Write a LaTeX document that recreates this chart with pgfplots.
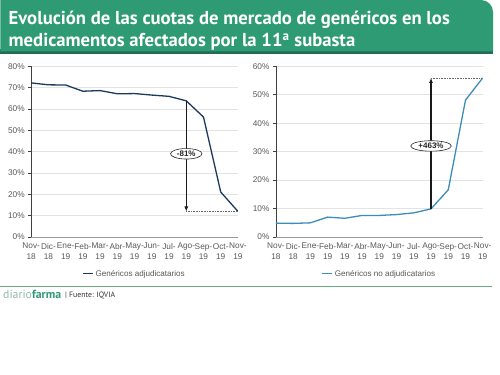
\documentclass[border=0pt]{standalone}
\usepackage{pgfplots}
\pgfplotsset{compat=1.18}
\usepackage{fontspec}
\setmainfont{Liberation Sans}
\newfontfamily\titlefont{PT Sans}
\usetikzlibrary{shapes.geometric,arrows.meta}
\definecolor{dfgreen}{HTML}{2E9B74}
\definecolor{dfdark}{HTML}{1F6E52}
\definecolor{dflight}{HTML}{93BBA8}
\definecolor{dfline}{HTML}{6DAA86}
\definecolor{txtgray}{HTML}{595959}
\definecolor{navy}{HTML}{1B3A5C}
\definecolor{steel}{HTML}{3D8DBA}
\definecolor{gridc}{HTML}{E3E3E3}

\pgfplotstableread{
x y
0 72.2
1 71.3
2 71.2
3 68.3
4 68.6
5 67.1
6 67.2
7 66.5
8 65.9
9 63.8
10 56.2
11 21.1
12 12.0
}\adjud

\pgfplotstableread{
x y
0 4.9
1 4.8
2 5.0
3 7.0
4 6.6
5 7.6
6 7.6
7 7.9
8 8.5
9 9.9
10 16.6
11 48.1
12 55.9
}\noadjud

\tikzset{pct/.style={ellipse, draw=black!85, line width=0.6pt, fill=white, inner xsep=1.8pt, inner ysep=0.3pt, minimum height=10.5pt, font=\bfseries\fontsize{8}{9}\selectfont, text=black!85}}

\pgfplotsset{
  common/.style={
    scale only axis, width=207pt, height=171pt, anchor=south west,
    xmin=0, xmax=12,
    axis lines=left,
    axis line style={txtgray, line width=0.6pt},
    x axis line style={-, draw=gray!80},
    y axis line style={-, draw=black!75, line width=0.8pt},
    xtick={0,...,12},
    xticklabels={{Nov-\\18},{Dic-\\18},{Ene-\\19},{Feb-\\19},{Mar-\\19},{Abr-\\19},{May-\\19},{Jun-\\19},{Jul-\\19},{Ago-\\19},{Sep-\\19},{Oct-\\19},{Nov-\\19}},
    xticklabel style={align=center, font=\fontsize{8.3}{10.3}\selectfont, text=txtgray, inner sep=1pt, yshift=-2pt},
    yticklabel style={font=\fontsize{8.3}{10}\selectfont, text=txtgray},
    x tick style={draw=none},
    y tick style={draw=black!75, line width=0.6pt},
    tick align=outside, major tick length=3pt,
    ymajorgrids, grid style={gridc, line width=0.5pt},
    legend style={at={(0.5,-0.215)}, anchor=center, draw=none, fill=none,
      font=\fontsize{8.1}{10}\selectfont, text=txtgray, inner sep=0pt},
    legend image code/.code={\draw[#1] (0pt,0pt) -- (10pt,0pt);},
  }
}

\begin{document}
\begin{tikzpicture}
\fill[white] (0pt,0pt) rectangle (500pt,-375pt);
% title banner
\fill[dfdark] (0pt,-54pt) rectangle (493pt,-49pt);
\fill[dfgreen] (0pt,-51.5pt) -- (0pt,0pt) [rounded corners=12pt] -- (493pt,0pt) [sharp corners] -- (493pt,-51.5pt) -- cycle;
\node[anchor=base west, text=white, text depth=0pt, font=\titlefont\bfseries\fontsize{18.7}{20}\selectfont, inner sep=0pt] at (8pt,-25pt) {Evolución de las cuotas de mercado de genéricos en los};
\node[anchor=base west, text=white, text height=12pt, font=\titlefont\bfseries\fontsize{18.7}{20}\selectfont, inner sep=0pt] at (8pt,-46.5pt) {medicamentos afectados por la 11\textsuperscript{a} subasta};

% left chart
\begin{axis}[common, at={(30.7pt,-237.3pt)}, ymin=0, ymax=80,
  ytick={0,10,...,80},
  yticklabels={0\%,10\%,20\%,30\%,40\%,50\%,60\%,70\%,80\%}]
\addplot[navy, line width=1.3pt] table[x=x,y=y]{\adjud};
\addlegendentry{Genéricos adjudicatarios}
\addplot[black!60, densely dotted, line width=0.6pt, forget plot] coordinates {(9,12.0) (12,12.0)};
\addplot[black!90, line width=1.2pt, -{Latex[length=5pt,width=4pt]}, forget plot] coordinates {(9,63.8) (9,12.0)};
\node[pct] at (axis cs:9,39) {-81\%};
\end{axis}

% right chart
\begin{axis}[common, at={(275.7pt,-237.3pt)}, ymin=0, ymax=60,
  ytick={0,10,...,60},
  yticklabels={0\%,10\%,20\%,30\%,40\%,50\%,60\%}]
\addplot[steel, line width=1.3pt] table[x=x,y=y]{\noadjud};
\addlegendentry{Genéricos no adjudicatarios}
\addplot[black!60, densely dotted, line width=0.6pt, forget plot] coordinates {(9,55.9) (12,55.9)};
\addplot[black!90, line width=1.2pt, -{Latex[length=5pt,width=4pt]}, forget plot] coordinates {(9,9.9) (9,55.9)};
\node[pct] at (axis cs:9,32) {+463\%};
\end{axis}

% footer
\draw[dfline, line width=1pt] (0pt,-286.5pt) -- (492pt,-286.5pt);
\node[anchor=base west, inner sep=0pt, font=\titlefont\fontsize{11.8}{12}\selectfont] at (2.5pt,-298.5pt) {\textcolor{dflight}{diario}\textcolor{dfgreen}{\bfseries farma}};
\node[anchor=base west, inner sep=0pt, font=\titlefont\fontsize{7.8}{9}\selectfont, text=black!80] at (64.5pt,-297.5pt) {| Fuente: IQVIA};
\end{tikzpicture}
\end{document}
